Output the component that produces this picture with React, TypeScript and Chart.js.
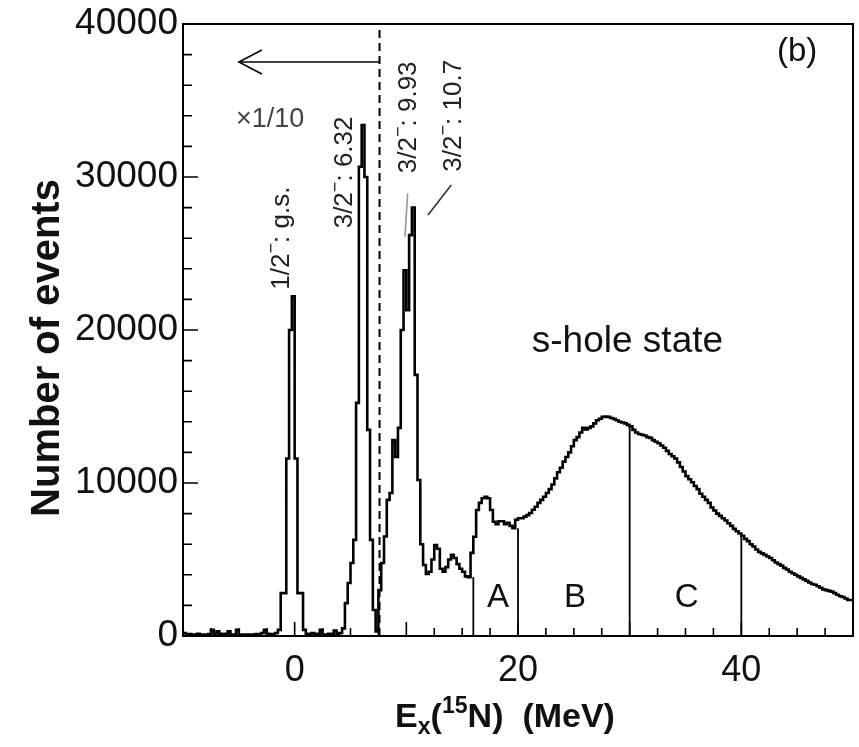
import React, { useEffect, useRef } from "react";
import { Chart, registerables } from "chart.js";

Chart.register(...registerables);

// ---------------- data ----------------
const BIN_START = -10; // MeV, left edge of first bin
const BIN_WIDTH = 0.25; // MeV

// events per bin (240 bins, -10 .. 50 MeV)
const counts = [
  150, 200, 100, 120, 80, 100, 150, 100,
  100, 80, 120, 400, 120, 300, 150, 100,
  150, 300, 100, 100, 400, 100, 80, 100,
  100, 80, 100, 120, 100, 200, 400, 150,
  100, 120, 200, 400, 2800, 2800, 11600, 20000,
  22200, 11600, 2800, 2800, 400, 150, 100, 200,
  100, 150, 400, 100, 100, 150, 100, 350,
  100, 200, 500, 2150, 3460, 4770, 6280, 15240,
  30670, 33400, 30000, 13470, 6280, 1700, 300, 3000,
  4770, 6500, 8900, 9350, 12800, 11700, 13600, 20000,
  23900, 21300, 26200, 28000, 17070, 10200, 6000, 4640,
  4050, 4200, 5000, 5950, 5700, 4400, 4200, 4500,
  5000, 5300, 5100, 4700, 4400, 4200, 3900, 3850,
  5430, 6490, 8240, 8700, 9000, 9100, 9000, 8240,
  7470, 7300, 7500, 7500, 7300, 7400, 7200, 7050,
  7600, 7700, 7700, 7800, 7900, 8040, 8250, 8450,
  8700, 8900, 9100, 9350, 9600, 9900, 10300, 10700,
  11000, 11400, 11700, 12000, 12400, 12800, 13000, 13300,
  13600, 13500, 13600, 13700, 13900, 14100, 14200, 14320,
  14350, 14320, 14250, 14190, 14100, 14000, 13950, 13900,
  13800, 13700, 13470, 13300, 13200, 13150, 13100, 13000,
  12950, 12800, 12700, 12600, 12450, 12300, 12100, 11900,
  11750, 11600, 11350, 11050, 10750, 10450, 10250, 10050,
  9800, 9600, 9300, 9100, 8900, 8700, 8400, 8200,
  8000, 7850, 7700, 7550, 7370, 7200, 7000, 6850,
  6700, 6550, 6350, 6200, 6000, 5850, 5650, 5500,
  5400, 5300, 5200, 5100, 4950, 4800, 4700, 4600,
  4450, 4350, 4200, 4100, 4000, 3900, 3800, 3700,
  3600, 3500, 3400, 3350, 3250, 3150, 3050, 3000,
  2950, 2900, 2800, 2700, 2600, 2550, 2450, 2350,
];

// region boundaries (MeV) and region names
const regionEdges = [16, 20, 30, 40];
const regionNames = ["A", "B", "C"];
const regionNameX = [18.2, 25.1, 35.1];
const regionNameY = [2700, 2700, 2700];

// peak labels: spin-parity, state
const peakSpin = ["1/2", "3/2", "3/2", "3/2"];
const peakState = ["g.s.", "6.32", "9.93", "10.7"];
const peakLabelX = [-1.3, 4.35, 10.05, 14.1];
const peakLabelY = [26000, 30300, 33900, 34000];

// x1/10 scaling boundary and arrow
const scaleCutX = 7.6;
const arrowY = 37520;
const arrowToX = -5.0;

// axis tick layout (values)
const X_MIN = -10;
const X_MAX = 50;
const Y_MIN = 0;
const Y_MAX = 40000;
const X_LABEL_STEP = 20;
const X_MAJOR = 10;
const X_MINOR = 2.5;
const Y_MAJOR = 10000;
const Y_MINOR = 2000;

// ---------------- helpers ----------------
const FONT = '"Liberation Sans", Arial, Helvetica, sans-serif';

type Run = { t: string; s: number; dy: number };

function drawRuns(
  ctx: CanvasRenderingContext2D,
  runs: Run[],
  base: number,
  weight: string,
  x: number,
  y: number,
  align: "left" | "center" | "right"
) {
  ctx.textAlign = "left";
  ctx.textBaseline = "alphabetic";
  const widths = runs.map((r) => {
    ctx.font = `${weight} ${base * r.s}px ${FONT}`;
    return ctx.measureText(r.t).width;
  });
  const total = widths.reduce((a, b) => a + b, 0);
  let cx = align === "center" ? x - total / 2 : align === "right" ? x - total : x;
  runs.forEach((r, k) => {
    ctx.font = `${weight} ${base * r.s}px ${FONT}`;
    ctx.fillText(r.t, cx, y + r.dy * base);
    cx += widths[k];
  });
}

const decorPlugin = {
  id: "decor",
  afterDraw(chart: any) {
    const ctx: CanvasRenderingContext2D = chart.ctx;
    const xs = chart.scales.x;
    const ys = chart.scales.y;
    const { left, right, top, bottom } = chart.chartArea;
    ctx.save();

    // frame
    ctx.strokeStyle = "#000";
    ctx.lineWidth = 2;
    ctx.strokeRect(left, top, right - left, bottom - top);

    // inward ticks
    ctx.lineWidth = 1.6;
    ctx.beginPath();
    for (let v = X_MIN; v <= X_MAX + 1e-6; v += X_MINOR) {
      const p = xs.getPixelForValue(v);
      const len = Math.abs(v % X_MAJOR) < 1e-6 ? 14 : 8;
      ctx.moveTo(p, bottom);
      ctx.lineTo(p, bottom - len);
    }
    for (let v = Y_MIN; v <= Y_MAX + 1e-6; v += Y_MINOR) {
      const p = ys.getPixelForValue(v);
      const len = Math.abs(v % Y_MAJOR) < 1e-6 ? 15 : 9;
      ctx.moveTo(left, p);
      ctx.lineTo(left + len, p);
    }
    ctx.stroke();

    // arrow head at the tip of the x1/10 arrow
    const tipX = xs.getPixelForValue(arrowToX);
    const tipY = ys.getPixelForValue(arrowY);
    ctx.lineWidth = 1.6;
    ctx.beginPath();
    ctx.moveTo(tipX + 23, tipY - 12);
    ctx.lineTo(tipX, tipY);
    ctx.lineTo(tipX + 23, tipY + 12);
    ctx.stroke();

    // texts
    ctx.fillStyle = "#111";
    // y title
    ctx.save();
    ctx.translate(45, 348);
    ctx.rotate(-Math.PI / 2);
    drawRuns(ctx, [{ t: "Number of events", s: 1, dy: 0 }], 40, "bold", 0, 14, "center");
    ctx.restore();

    // x title
    drawRuns(
      ctx,
      [
        { t: "E", s: 1, dy: 0 },
        { t: "x", s: 0.68, dy: 0.2 },
        { t: "(", s: 1, dy: 0 },
        { t: "15", s: 0.68, dy: -0.4 },
        { t: "N)  (MeV)", s: 1, dy: 0 },
      ],
      34,
      "bold",
      505,
      727,
      "center"
    );

    // (b)
    drawRuns(ctx, [{ t: "(b)", s: 1, dy: 0 }], 33, "normal", xs.getPixelForValue(45.0), 61, "center");

    // s-hole state
    drawRuns(ctx, [{ t: "s-hole state", s: 1, dy: 0 }], 37, "normal", xs.getPixelForValue(29.8), ys.getPixelForValue(19400) + 13, "center");

    // region names
    regionNames.forEach((n, k) => {
      drawRuns(ctx, [{ t: n, s: 1, dy: 0 }], 33, "normal", xs.getPixelForValue(regionNameX[k]), ys.getPixelForValue(regionNameY[k]) + 12, "center");
    });

    // x1/10
    ctx.fillStyle = "#444";
    drawRuns(ctx, [{ t: "\u00d71/10", s: 1, dy: 0 }], 27, "normal", xs.getPixelForValue(-2.2), ys.getPixelForValue(33920) + 10, "center");

    // peak labels (rotated)
    ctx.fillStyle = "#222";
    peakSpin.forEach((sp, k) => {
      ctx.save();
      ctx.translate(xs.getPixelForValue(peakLabelX[k]), ys.getPixelForValue(peakLabelY[k]));
      ctx.rotate(-Math.PI / 2);
      drawRuns(
        ctx,
        [
          { t: sp, s: 1, dy: 0 },
          { t: "\u2212", s: 0.7, dy: -0.45 },
          { t: ": " + peakState[k], s: 1, dy: 0 },
        ],
        26,
        "normal",
        0,
        9,
        "center"
      );
      ctx.restore();
    });

    ctx.restore();
  },
};

export default function App() {
  const ref = useRef<HTMLCanvasElement | null>(null);

  useEffect(() => {
    if (!ref.current) return;
    const hist = counts.map((c, i) => ({ x: BIN_START + i * BIN_WIDTH, y: c }));
    hist.push({ x: BIN_START + counts.length * BIN_WIDTH, y: counts[counts.length - 1] });

    const regionLines = regionEdges.map((e) => {
      const j = Math.round((e - BIN_START) / BIN_WIDTH);
      const topVal = Math.min(counts[j - 1], counts[j]);
      return {
        data: [
          { x: e, y: 0 },
          { x: e, y: topVal },
        ],
        borderColor: "#000",
        borderWidth: 1.8,
        pointRadius: 0,
        fill: false,
      };
    });

    const chart = new Chart(ref.current, {
      type: "line",
      data: {
        datasets: [
          {
            data: hist,
            stepped: "after",
            borderColor: "#000",
            borderWidth: 2.6,
            pointRadius: 0,
            fill: false,
          } as any,
          ...regionLines,
          {
            data: [
              { x: scaleCutX, y: Y_MIN },
              { x: scaleCutX, y: Y_MAX },
            ],
            borderColor: "#000",
            borderWidth: 2,
            borderDash: [8, 5],
            pointRadius: 0,
            fill: false,
          },
          {
            data: [
              { x: scaleCutX, y: arrowY },
              { x: arrowToX, y: arrowY },
            ],
            borderColor: "#000",
            borderWidth: 1.6,
            pointRadius: 0,
            fill: false,
          },
          {
            data: [
              { x: 10.12, y: 28940 },
              { x: 9.88, y: 26100 },
            ],
            borderColor: "#999",
            borderWidth: 1.6,
            pointRadius: 0,
            fill: false,
          },
          {
            data: [
              { x: 14.02, y: 29480 },
              { x: 11.94, y: 27520 },
            ],
            borderColor: "#333",
            borderWidth: 1.6,
            pointRadius: 0,
            fill: false,
          },
        ],
      },
      options: {
        responsive: false,
        animation: false,
        devicePixelRatio: 1,
        layout: { padding: { left: 0, right: 6, top: 24, bottom: 0 } },
        plugins: { legend: { display: false }, tooltip: { enabled: false } },
        scales: {
          x: {
            type: "linear",
            min: X_MIN,
            max: X_MAX,
            afterFit: (s: any) => {
              s.height = 111;
              s.paddingRight = 0;
              s.paddingLeft = 0;
            },
            grid: { display: false },
            border: { display: false },
            ticks: {
              stepSize: X_MAJOR,
              autoSkip: false,
              maxRotation: 0,
              padding: 5,
              color: "#111",
              font: { size: 36, family: FONT },
              callback: (v: any) => (Math.abs(Number(v) % X_LABEL_STEP) < 1e-6 ? String(v) : ""),
            },
          },
          y: {
            type: "linear",
            min: Y_MIN,
            max: Y_MAX,
            afterFit: (s: any) => {
              s.width = 183;
              s.paddingTop = 0;
              s.paddingBottom = 0;
            },
            grid: { display: false },
            border: { display: false },
            ticks: {
              stepSize: Y_MAJOR,
              padding: -3,
              color: "#111",
              font: { size: 37, family: FONT },
              callback: (v: any) => String(v),
            },
          },
        },
      } as any,
      plugins: [decorPlugin],
    });
    return () => chart.destroy();
  }, []);

  return (
    <div style={{ position: "fixed", left: 0, top: 0, width: 859, height: 747, background: "#fff" }}>
      <canvas ref={ref} width={859} height={747} style={{ display: "block" }} />
    </div>
  );
}
